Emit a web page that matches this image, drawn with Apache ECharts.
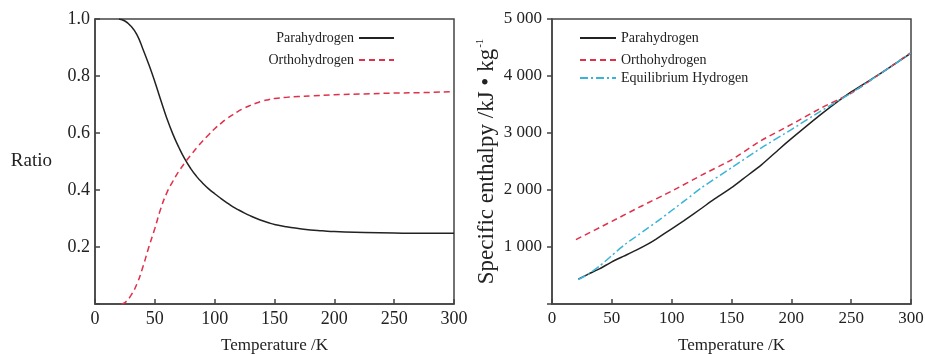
<!DOCTYPE html>
<html>
<head>
<meta charset="utf-8">
<script src="https://cdn.jsdelivr.net/npm/echarts@6/dist/echarts.min.js"></script>
<style>
  html, body { margin: 0; padding: 0; background: #fff; }
  #chart { width: 925px; height: 354px; }
</style>
</head>
<body>
<div id="chart"></div>
<script>
// left panel: ortho/para ratio vs temperature
const paraTempL = [20, 25, 30, 35, 40, 45, 50, 55, 60, 65, 70, 75, 80, 85, 90, 95, 100, 105, 110, 115, 120, 125, 130, 135, 140, 145, 150, 160, 170, 180, 190, 200, 225, 250, 275, 300];
const paraRatio = [1.0, 0.993, 0.975, 0.945, 0.895, 0.84, 0.78, 0.715, 0.652, 0.597, 0.55, 0.509, 0.475, 0.447, 0.424, 0.404, 0.387, 0.371, 0.356, 0.342, 0.33, 0.319, 0.309, 0.3, 0.292, 0.285, 0.279, 0.271, 0.265, 0.26, 0.257, 0.254, 0.251, 0.249, 0.248, 0.248];
const orthoTempL = [22, 25, 30, 35, 40, 45, 50, 55, 60, 65, 70, 75, 80, 85, 90, 95, 100, 105, 110, 115, 120, 125, 130, 135, 140, 145, 150, 160, 170, 180, 200, 225, 250, 275, 300];
const orthoRatio = [0, 0.005, 0.03, 0.07, 0.13, 0.2, 0.265, 0.335, 0.39, 0.43, 0.465, 0.495, 0.522, 0.548, 0.572, 0.594, 0.615, 0.633, 0.65, 0.664, 0.677, 0.688, 0.697, 0.705, 0.712, 0.717, 0.721, 0.725, 0.728, 0.73, 0.734, 0.737, 0.74, 0.742, 0.745];

// right panel: specific enthalpy vs temperature
const paraTempR = [22, 30, 40, 50, 60, 70, 80, 87, 100, 110, 125, 135, 150, 160, 175, 190, 200, 225, 250, 275, 300];
const paraEnthalpy = [435, 520, 620, 740, 840, 940, 1050, 1140, 1320, 1460, 1680, 1830, 2040, 2200, 2440, 2720, 2900, 3330, 3720, 4050, 4400];
const orthoTempR = [20, 50, 75, 100, 125, 150, 175, 200, 225, 250, 275, 300];
const orthoEnthalpy = [1130, 1450, 1720, 1980, 2260, 2530, 2870, 3150, 3440, 3700, 4050, 4410];
const eqTempR = [22, 30, 40, 50, 60, 70, 80, 90, 100, 112, 125, 150, 175, 200, 225, 250, 275, 300];
const eqEnthalpy = [430, 520, 670, 850, 1030, 1180, 1330, 1480, 1640, 1830, 2040, 2390, 2740, 3060, 3390, 3700, 4050, 4400];

const zip = (xs, ys) => xs.map((x, i) => [x, ys[i]]);

const FONT = '"Liberation Serif", "Times New Roman", serif';
const TEXT = '#222';
const BOX = '#444';
const RED = '#e0304a';
const CYAN = '#3ab4d6';

const chart = echarts.init(document.getElementById('chart'));

const boxAxisLine = { show: true, lineStyle: { color: BOX, width: 1.5 } };
// hide the marker circle that line series put in legend icons
const legendBase = {
  padding: 0,
  itemHeight: 14,
  itemStyle: { opacity: 0 },
  textStyle: { fontFamily: FONT, fontSize: 14, color: TEXT }
};

const option = {
  animation: false,
  textStyle: { fontFamily: FONT, color: TEXT },
  grid: [
    { left: 95, right: 471, top: 19, bottom: 50, show: true, borderColor: BOX, borderWidth: 1.5, outerBoundsMode: 'none', containLabel: false },
    { left: 552, right: 14, top: 19, bottom: 50, show: true, borderColor: BOX, borderWidth: 1.5, outerBoundsMode: 'none', containLabel: false }
  ],
  legend: [
    Object.assign({}, legendBase, {
      data: ['Parahydrogen', 'Orthohydrogen'],
      orient: 'vertical',
      right: 530,
      top: 31,
      align: 'right',
      itemGap: 8,
      itemWidth: 35
    }),
    Object.assign({}, legendBase, { data: ['Parahydrogen'], left: 579, top: 31, itemWidth: 36 }),
    Object.assign({}, legendBase, { data: ['Orthohydrogen'], left: 579, top: 53, itemWidth: 36 }),
    Object.assign({}, legendBase, { data: ['Equilibrium Hydrogen'], left: 579, top: 71, itemWidth: 36 })
  ],
  xAxis: [
    {
      gridIndex: 0,
      type: 'value',
      min: 0, max: 300, interval: 50,
      name: 'Temperature /K',
      nameLocation: 'middle',
      nameGap: 33,
      nameTextStyle: { fontFamily: FONT, fontSize: 17, color: TEXT },
      axisLine: boxAxisLine,
      axisTick: { show: true, inside: true, length: 5, lineStyle: { color: BOX, width: 1.5 } },
      axisLabel: { fontFamily: FONT, fontSize: 18, color: TEXT, margin: 6 },
      splitLine: { show: false }
    },
    {
      gridIndex: 1,
      type: 'value',
      min: 0, max: 300, interval: 50,
      name: 'Temperature /K',
      nameLocation: 'middle',
      nameGap: 33,
      nameTextStyle: { fontFamily: FONT, fontSize: 17, color: TEXT },
      axisLine: boxAxisLine,
      axisTick: { show: true, inside: true, length: 5, lineStyle: { color: BOX, width: 1.5 } },
      axisLabel: { fontFamily: FONT, fontSize: 17, color: TEXT, margin: 6 },
      splitLine: { show: false }
    }
  ],
  yAxis: [
    {
      gridIndex: 0,
      type: 'value',
      min: 0, max: 1, interval: 0.2,
      name: 'Ratio',
      nameLocation: 'middle',
      nameRotate: 0,
      nameGap: 43,
      nameTextStyle: { fontFamily: FONT, fontSize: 19, color: TEXT },
      axisLine: boxAxisLine,
      axisTick: { show: true, inside: true, length: 5, lineStyle: { color: BOX, width: 1.5 } },
      axisLabel: {
        fontFamily: FONT, fontSize: 18, color: TEXT, margin: 5,
        formatter: v => (v === 0 ? '' : v.toFixed(1))
      },
      splitLine: { show: false }
    },
    {
      gridIndex: 1,
      type: 'value',
      min: 0, max: 5000, interval: 1000,
      name: 'Specific enthalpy /kJ • kg{sup|-1}',
      nameLocation: 'middle',
      nameGap: 54,
      nameTextStyle: {
        fontFamily: FONT, fontSize: 23, color: TEXT,
        rich: { sup: { fontFamily: FONT, fontSize: 11, color: TEXT, verticalAlign: 'top', padding: [0, 0, 10, 1] } }
      },
      axisLine: boxAxisLine,
      axisTick: { show: true, inside: false, length: 5, lineStyle: { color: BOX, width: 1.5 } },
      axisLabel: {
        fontFamily: FONT, fontSize: 17, color: TEXT, margin: 10,
        formatter: v => (v === 0 ? '' : String(v).replace(/\B(?=(\d{3})+(?!\d))/g, ' '))
      },
      splitLine: { show: false }
    }
  ],
  series: [
    {
      name: 'Parahydrogen', type: 'line', xAxisIndex: 0, yAxisIndex: 0,
      data: zip(paraTempL, paraRatio),
      smooth: 0.5, symbol: 'none',
      lineStyle: { color: '#222', width: 1.5 },
      itemStyle: { color: '#222' }
    },
    {
      name: 'Orthohydrogen', type: 'line', xAxisIndex: 0, yAxisIndex: 0,
      data: zip(orthoTempL, orthoRatio),
      smooth: 0.5, symbol: 'none',
      lineStyle: { color: RED, width: 1.5, type: [6, 4] },
      itemStyle: { color: RED }
    },
    {
      name: 'Parahydrogen', type: 'line', xAxisIndex: 1, yAxisIndex: 1,
      data: zip(paraTempR, paraEnthalpy),
      smooth: 0.2, symbol: 'none',
      lineStyle: { color: '#222', width: 1.5 },
      itemStyle: { color: '#222' }
    },
    {
      name: 'Orthohydrogen', type: 'line', xAxisIndex: 1, yAxisIndex: 1,
      data: zip(orthoTempR, orthoEnthalpy),
      smooth: 0.2, symbol: 'none',
      lineStyle: { color: RED, width: 1.5, type: [6, 4] },
      itemStyle: { color: RED }
    },
    {
      name: 'Equilibrium Hydrogen', type: 'line', xAxisIndex: 1, yAxisIndex: 1,
      data: zip(eqTempR, eqEnthalpy),
      smooth: 0.2, symbol: 'none',
      lineStyle: { color: CYAN, width: 1.5, type: [8, 3, 2, 3] },
      itemStyle: { color: CYAN }
    }
  ]
};

chart.setOption(option);
</script>
</body>
</html>
